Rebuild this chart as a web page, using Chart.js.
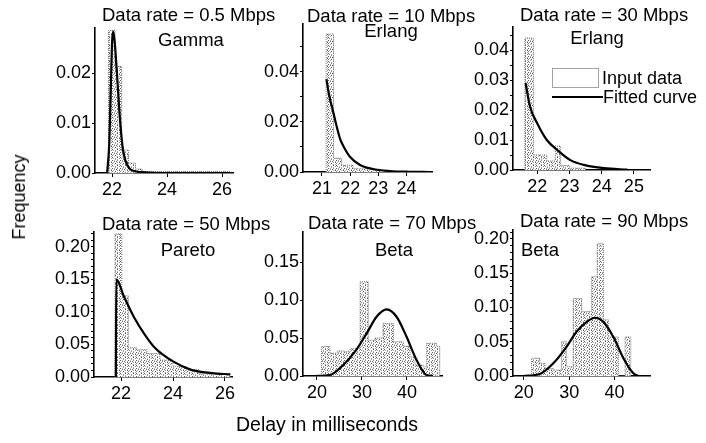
<!DOCTYPE html>
<html>
<head>
<meta charset="utf-8">
<script src="https://cdn.jsdelivr.net/npm/chart.js@4.4.1/dist/chart.umd.min.js"></script>
<style>
  html, body { margin: 0; padding: 0; background: #fff; }
  #wrap { position: relative; width: 706px; height: 443px; overflow: hidden; font-family: 'Liberation Sans', Arial, sans-serif; color: #000; }
  #wrap canvas { position: absolute; left: 0; top: 0; }
  .lab { position: absolute; white-space: nowrap; line-height: 1; }
  #ylab { left: 19px; top: 197px; font-size: 18px; transform: translate(-50%, -50%) rotate(-90deg); }
  #xlab { left: 327px; top: 425px; font-size: 19.5px; transform: translate(-50%, -50%); }
</style>
</head>
<body>
<div id="wrap">
  <canvas id="c1" width="706" height="443"></canvas>
  <canvas id="c2" width="706" height="443"></canvas>
  <canvas id="c3" width="706" height="443"></canvas>
  <canvas id="c4" width="706" height="443"></canvas>
  <canvas id="c5" width="706" height="443"></canvas>
  <canvas id="c6" width="706" height="443"></canvas>
  <div id="ylab" class="lab">Frequency</div>
  <div id="xlab" class="lab">Delay in milliseconds</div>
</div>
<script>
// 0.5 Mbps - Gamma
const g1Edges = [21.87, 22.11, 22.35, 22.6, 22.85, 23.1, 26.3];
const g1Freq = [0.0285, 0.0213, 0.0046, 0.002, 0.0008, 0.0003];
const g1CurveX = [21.82, 21.9, 21.96, 22.0, 22.04, 22.1, 22.17, 22.29, 22.4, 22.58, 22.88, 23.3, 24.0, 26.3];
const g1CurveY = [0, 0.006, 0.018, 0.026, 0.0283, 0.026, 0.0206, 0.0106, 0.0046, 0.0013, 0.0003, 0.0001, 0, 0];
const g1XTicks = [22, 24, 26];
const g1YTicks = [0, 0.01, 0.02];
const g1YLabels = [0, 0.01, 0.02];

// 10 Mbps - Erlang
const e2Edges = [21.15, 21.41, 21.7, 22.1, 22.8, 23.5];
const e2Freq = [0.055, 0.0055, 0.0027, 0.0013, 0.0005];
const e2CurveX = [21.16, 21.25, 21.41, 21.55, 21.65, 21.8, 22.0, 22.35, 22.8, 23.4, 24.1, 24.8];
const e2CurveY = [0.037, 0.031, 0.0235, 0.017, 0.013, 0.0095, 0.006, 0.0028, 0.0012, 0.0004, 0.0001, 0];
const e2XTicks = [21, 22, 23, 24];
const e2YTicks = [0, 0.01, 0.02, 0.03, 0.04, 0.05];
const e2YLabels = [0, 0.02, 0.04];

// 30 Mbps - Erlang
const e3Edges = [21.62, 21.88, 22.3, 22.56, 22.72, 23.0, 23.5];
const e3Freq = [0.044, 0.005, 0.003, 0.008, 0.0015, 0.0006];
const e3CurveX = [21.64, 21.78, 22.0, 22.3, 22.62, 23.03, 23.45, 24.07, 24.8];
const e3CurveY = [0.029, 0.0211, 0.0156, 0.01, 0.0067, 0.0033, 0.0017, 0.0006, 0.0001];
const e3XTicks = [22, 23, 24, 25];
const e3YTicks = [0, 0.005, 0.01, 0.015, 0.02, 0.025, 0.03, 0.035, 0.04, 0.045];
const e3YLabels = [0, 0.01, 0.02, 0.03, 0.04];

// 50 Mbps - Pareto
const p4Edges = [21.77, 22.03, 22.28, 22.6, 23.0, 23.5, 24.0, 24.5, 25.0, 26.2];
const p4Freq = [0.22, 0.125, 0.045, 0.042, 0.036, 0.026, 0.016, 0.011, 0.005];
const p4CurveX = [21.8, 21.82, 22.1, 22.5, 22.9, 23.3, 24.0, 24.7, 25.5, 26.2];
const p4CurveY = [0, 0.15, 0.125, 0.092, 0.066, 0.045, 0.024, 0.011, 0.006, 0.004];
const p4XTicks = [22, 24, 26];
const p4YTicks = [0, 0.01, 0.02, 0.03, 0.04, 0.05, 0.06, 0.07, 0.08, 0.09, 0.1, 0.11, 0.12, 0.13, 0.14, 0.15, 0.16, 0.17, 0.18, 0.19, 0.2, 0.21, 0.22];
const p4YLabels = [0, 0.05, 0.1, 0.15, 0.2];

// 70 Mbps - Beta
const b5Edges = [21.0, 22.9, 24.5, 26.0, 27.4, 29.6, 31.4, 32.9, 34.7, 37.0, 39.2, 40.7, 41.8, 43.6, 44.4, 46.6, 47.3];
const b5Freq = [0.039, 0.030, 0.033, 0.032, 0.036, 0.124, 0.047, 0.050, 0.069, 0.045, 0.039, 0.025, 0.0145, 0.012, 0.043, 0.039];
const b5CurveX = [19.6, 22.9, 25.85, 28.45, 31.05, 33.25, 35.5, 37.7, 39.9, 42.15, 44.35, 45.8];
const b5CurveY = [0, 0.0013, 0.0145, 0.032, 0.056, 0.078, 0.0877, 0.078, 0.052, 0.021, 0.0013, 0];
const b5XTicks = [20, 30, 40];
const b5YTicks = [0, 0.05, 0.1, 0.15];
const b5YLabels = [0, 0.05, 0.1, 0.15];

// 90 Mbps - Beta
const b6Edges = [21.7, 23.54, 24.65, 26.5, 28.3, 29.45, 30.9, 32.77, 34.98, 36.2, 37.55, 38.65, 40.86, 42.35, 43.6];
const b6Freq = [0.026, 0.0185, 0.011, 0.0087, 0.05, 0.0136, 0.113, 0.094, 0.145, 0.193, 0.082, 0.057, 0, 0.057];
const b6CurveX = [19.85, 23.54, 26.5, 29.45, 31.66, 33.87, 35.7, 37.55, 39.76, 41.97, 44.18, 45.3];
const b6CurveY = [0, 0.003, 0.0185, 0.043, 0.065, 0.079, 0.085, 0.079, 0.057, 0.026, 0.004, 0];
const b6XTicks = [20, 30, 40];
const b6YTicks = [0, 0.01, 0.02, 0.03, 0.04, 0.05, 0.06, 0.07, 0.08, 0.09, 0.1, 0.11, 0.12, 0.13, 0.14, 0.15, 0.16, 0.17, 0.18, 0.19, 0.2, 0.21];
const b6YLabels = [0, 0.05, 0.1, 0.15, 0.2];

const FONT = "'Liberation Sans', Arial, sans-serif";
const W = 706, H = 443, Y_W = 62, X_H = 32;

const panels = [
  { id: 'c1', edges: g1Edges, freq: g1Freq, cx: g1CurveX, cy: g1CurveY, xTicks: g1XTicks, yTicks: g1YTicks, yLabels: g1YLabels,
    title: 'Data rate = 0.5 Mbps', name: 'Gamma', area: [95, 28, 233, 173], xMin: 21.38, xMax: 26.4, yMax: 0.029,
    titlePos: [102, 21], namePos: [191, 45.5] },
  { id: 'c2', edges: e2Edges, freq: e2Freq, cx: e2CurveX, cy: e2CurveY, xTicks: e2XTicks, yTicks: e2YTicks, yLabels: e2YLabels,
    title: 'Data rate = 10 Mbps', name: 'Erlang', area: [303, 24, 432, 172], xMin: 20.33, xMax: 24.9, yMax: 0.059,
    titlePos: [307, 21.5], namePos: [391, 36.5] },
  { id: 'c3', edges: e3Edges, freq: e3Freq, cx: e3CurveX, cy: e3CurveY, xTicks: e3XTicks, yTicks: e3YTicks, yLabels: e3YLabels,
    title: 'Data rate = 30 Mbps', name: 'Erlang', area: [513, 27, 650, 170], xMin: 21.25, xMax: 25.5, yMax: 0.0477,
    titlePos: [520, 20.5], namePos: [597, 44], legend: true },
  { id: 'c4', edges: p4Edges, freq: p4Freq, cx: p4CurveX, cy: p4CurveY, xTicks: p4XTicks, yTicks: p4YTicks, yLabels: p4YLabels,
    title: 'Data rate = 50 Mbps', name: 'Pareto', area: [94, 232, 232, 377], xMin: 20.96, xMax: 26.27, yMax: 0.223,
    titlePos: [102, 230], namePos: [188, 256] },
  { id: 'c5', edges: b5Edges, freq: b5Freq, cx: b5CurveX, cy: b5CurveY, xTicks: b5XTicks, yTicks: b5YTicks, yLabels: b5YLabels,
    title: 'Data rate = 70 Mbps', name: 'Beta', area: [303, 232, 442, 376], xMin: 16.9, xMax: 47.8, yMax: 0.1895,
    titlePos: [308, 229], namePos: [394, 256] },
  { id: 'c6', edges: b6Edges, freq: b6Freq, cx: b6CurveX, cy: b6CurveY, xTicks: b6XTicks, yTicks: b6YTicks, yLabels: b6YLabels,
    title: 'Data rate = 90 Mbps', name: 'Beta', area: [513, 230, 650, 376], xMin: 17.6, xMax: 47.85, yMax: 0.213,
    titlePos: [520, 227], namePos: [540, 256] }
];

// stippled fill like the scanned histogram bars
const stippleRows = [
  'a.c..b..',
  '..b.a..c',
  '.c...c.a',
  'b..a....',
  '..c..b.c',
  'a....a..',
  '.b.c...b',
  '...b.c..'
];
function stipple() {
  const shades = { a: '#555', b: '#888', c: '#aaa' };
  const c = document.createElement('canvas');
  c.width = 8; c.height = 8;
  const g = c.getContext('2d');
  g.fillStyle = '#fff';
  g.fillRect(0, 0, 8, 8);
  stippleRows.forEach((row, y) => row.split('').forEach((ch, x) => {
    if (shades[ch]) { g.fillStyle = shades[ch]; g.fillRect(x, y, 1, 1); }
  }));
  return g.createPattern(c, 'repeat');
}
const dots = stipple();

function histPoints(edges, freq) {
  const pts = [{ x: edges[0], y: 0 }];
  freq.forEach((f, i) => pts.push({ x: edges[i], y: f }));
  pts.push({ x: edges[edges.length - 1], y: 0 });
  return pts;
}

const panelText = {
  id: 'panelText',
  afterDraw(chart, args, o) {
    const ctx = chart.ctx;
    ctx.save();
    ctx.fillStyle = '#000';
    ctx.textBaseline = 'alphabetic';
    ctx.font = '18.5px ' + FONT;
    ctx.textAlign = 'left';
    ctx.fillText(o.title, o.titlePos[0], o.titlePos[1]);
    ctx.textAlign = 'center';
    ctx.fillText(o.name, o.namePos[0], o.namePos[1]);
    if (o.legend) {
      const fit = chart.data.datasets[0], hist = chart.data.datasets[1];
      ctx.font = '18px ' + FONT;
      ctx.textAlign = 'left';
      ctx.fillStyle = '#fff';
      ctx.fillRect(552, 68, 46, 19);
      ctx.setLineDash([1, 1]);
      ctx.strokeStyle = '#444';
      ctx.lineWidth = 1;
      ctx.strokeRect(552.5, 68.5, 46, 19);
      ctx.setLineDash([]);
      ctx.fillStyle = '#000';
      ctx.fillText(hist.label, 602, 83.5);
      ctx.beginPath();
      ctx.moveTo(552, 97);
      ctx.lineTo(603, 97);
      ctx.lineWidth = 2;
      ctx.strokeStyle = '#000';
      ctx.stroke();
      ctx.fillText(fit.label, 603, 103);
    }
    ctx.restore();
  }
};

panels.forEach(p => {
  const [l, t, r, b] = p.area;
  const isLabel = v => p.yLabels.some(k => Math.abs(k - v) < 1e-9);
  new Chart(document.getElementById(p.id), {
    type: 'line',
    data: {
      datasets: [
        { label: 'Fitted curve', data: p.cx.map((x, i) => ({ x, y: p.cy[i] })), borderColor: '#000', borderWidth: 2.2,
          pointRadius: 0, cubicInterpolationMode: 'monotone', fill: false, order: 1 },
        { label: 'Input data', data: histPoints(p.edges, p.freq), stepped: 'before', borderColor: '#777', borderWidth: 1,
          borderDash: [1, 1], backgroundColor: dots, fill: 'origin', pointRadius: 0, order: 2 }
      ]
    },
    options: {
      responsive: false,
      animation: false,
      events: [],
      layout: { padding: { left: l - Y_W, top: t, right: W - r, bottom: H - b - X_H } },
      plugins: {
        legend: { display: false },
        tooltip: { enabled: false },
        panelText: { title: p.title, name: p.name, titlePos: p.titlePos, namePos: p.namePos, legend: !!p.legend }
      },
      scales: {
        x: {
          type: 'linear', min: p.xMin, max: p.xMax,
          afterBuildTicks: s => { s.ticks = p.xTicks.map(v => ({ value: v })); },
          afterFit: s => { s.height = X_H; },
          grid: { drawOnChartArea: false, tickLength: 4, color: '#000' },
          border: { color: '#000', width: 1.6 },
          ticks: { color: '#000', font: { family: FONT, size: 18 }, padding: 2, maxRotation: 0, autoSkip: false, callback: v => String(v) }
        },
        y: {
          min: 0, max: p.yMax,
          afterBuildTicks: s => { s.ticks = p.yTicks.map(v => ({ value: v })); },
          afterFit: s => { s.width = Y_W; },
          grid: { drawOnChartArea: false, tickLength: 3, color: '#000' },
          border: { color: '#000', width: 1.6 },
          ticks: { color: '#000', font: { family: FONT, size: 18 }, padding: 1, autoSkip: false,
            callback: v => isLabel(v) ? v.toFixed(2) : '' }
        }
      }
    },
    plugins: [panelText]
  });
});
</script>
</body>
</html>
